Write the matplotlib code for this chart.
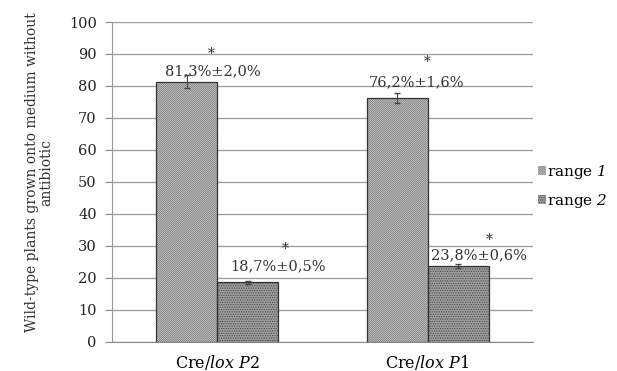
import matplotlib
matplotlib.use('Agg')
import matplotlib.pyplot as plt
import numpy as np

plt.rcParams['font.family'] = 'DejaVu Serif'
plt.rcParams['mathtext.fontset'] = 'custom'
plt.rcParams['mathtext.rm'] = 'DejaVu Serif'
plt.rcParams['mathtext.sf'] = 'DejaVu Serif:italic'
plt.rcParams['hatch.linewidth'] = 0.5

categories = [r'Cre/$\mathsf{lox\ P}$2', r'Cre/$\mathsf{lox\ P}$1']
series_names = [r'range $\mathsf{1}$', r'range $\mathsf{2}$']
range1 = [81.3, 76.2]
range2 = [18.7, 23.8]
err1 = [2.0, 1.6]
err2 = [0.5, 0.6]
labels1 = ['81,3%±2,0%', '76,2%±1,6%']
labels2 = ['18,7%±0,5%', '23,8%±0,6%']

# label offsets (points) from the top of each error bar
lab_off1 = [(19, 3), (14, 8)]
lab_off2 = [(22, 10), (15, 6.5)]
ast_off1 = [(18, 15.5), (22, 22.5)]
ast_off2 = [(27, 22.5), (22, 17.5)]

fig = plt.figure(figsize=(6.17, 3.71), dpi=100)
fig.patch.set_facecolor('white')
ax = fig.add_axes([0.1815, 0.0782, 0.6823, 0.8625])

x = np.arange(len(categories))
w = 0.29
# textured fill
ax.bar(x - w / 2, range1, w, facecolor='#d6d6d6', edgecolor='#6a6a6a',
       hatch='////////////////', linewidth=0, zorder=3, label=series_names[0])
ax.bar(x + w / 2, range2, w, facecolor='#9c9c9c', edgecolor='#444444',
       hatch='.......', linewidth=0, zorder=3, label=series_names[1])
# outlines
ax.bar(x - w / 2, range1, w, fill=False, edgecolor='#333333', linewidth=0.9, zorder=3)
ax.bar(x + w / 2, range2, w, fill=False, edgecolor='#333333', linewidth=0.9, zorder=3)

ax.errorbar(x - w / 2, range1, yerr=err1, fmt='none', ecolor='#444444',
            elinewidth=0.8, capsize=2.5, zorder=4)
ax.errorbar(x + w / 2, range2, yerr=err2, fmt='none', ecolor='#444444',
            elinewidth=0.8, capsize=2.5, zorder=4)

# value labels and asterisks
for xi, v, e, lab, lo, ao in zip(x - w / 2, range1, err1, labels1, lab_off1, ast_off1):
    ax.annotate(lab, (xi, v + e), xytext=lo, textcoords='offset points',
                ha='center', va='center', fontsize=10.5, color='#333333', zorder=5)
    ax.annotate('*', (xi, v + e), xytext=ao, textcoords='offset points',
                ha='center', va='center', fontsize=10, color='#333333', zorder=5)
for xi, v, e, lab, lo, ao in zip(x + w / 2, range2, err2, labels2, lab_off2, ast_off2):
    ax.annotate(lab, (xi, v + e), xytext=lo, textcoords='offset points',
                ha='center', va='center', fontsize=10.5, color='#333333', zorder=5)
    ax.annotate('*', (xi, v + e), xytext=ao, textcoords='offset points',
                ha='center', va='center', fontsize=10, color='#333333', zorder=5)

ax.set_xlim(-0.5, 1.5)
ax.set_ylim(0, 100)
ax.set_yticks(np.arange(0, 101, 10))
ax.set_xticks(x)
ax.set_xticklabels(categories, fontsize=11.5)
ax.tick_params(axis='x', length=0, pad=8)
ax.tick_params(axis='y', labelsize=10.5, length=5, pad=6, color='#888888',
               labelcolor='#222222')
ax.yaxis.grid(True, color='#a0a0a0', linewidth=1.0, zorder=0)
ax.set_axisbelow(True)
for s in ['top', 'right']:
    ax.spines[s].set_visible(False)
ax.spines['left'].set_color('#999999')
ax.spines['bottom'].set_color('#888888')

ax.set_ylabel('Wild-type plants grown onto medium without\nantibiotic',
              fontsize=10, color='#333333', linespacing=1.0)
ax.yaxis.set_label_coords(-0.14, 0.53)

leg = ax.legend(loc='center left', bbox_to_anchor=(1.0, 0.486), frameon=False,
                fontsize=11, handlelength=0.55, handleheight=0.55, handletextpad=0.1,
                labelspacing=0.75, borderaxespad=0.2, borderpad=0.1)

fig.savefig('out.png', dpi=100, facecolor='white')
